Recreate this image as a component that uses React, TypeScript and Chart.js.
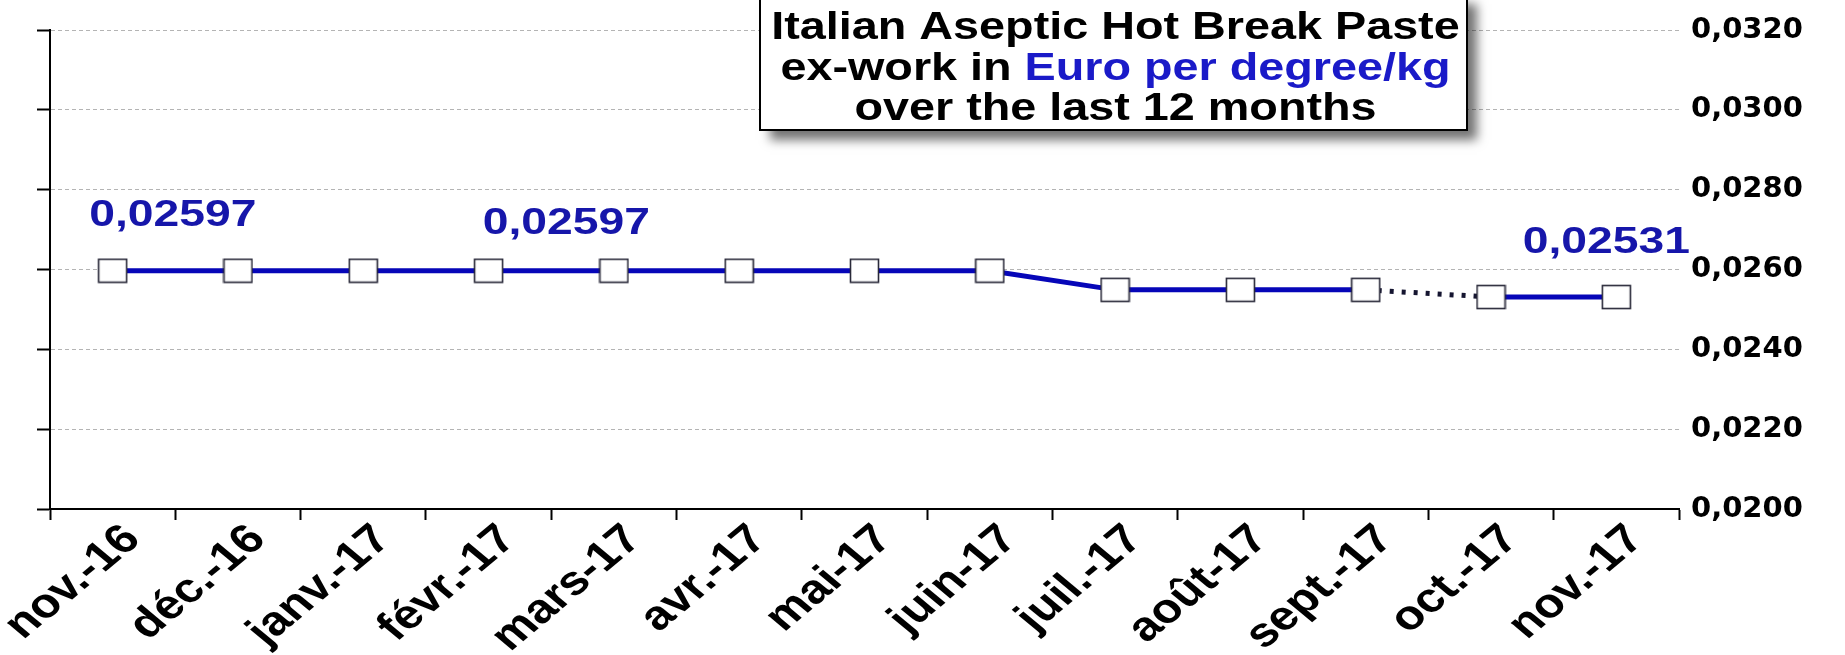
import React, { useEffect, useRef } from 'react';
import { Chart, registerables } from 'chart.js';

Chart.register(...registerables);

// ---- data ----
const months: string[] = [
  'nov.-16', 'déc.-16', 'janv.-17', 'févr.-17', 'mars-17', 'avr.-17', 'mai-17',
  'juin-17', 'juil.-17', 'août-17', 'sept.-17', 'oct.-17', 'nov.-17',
];
const prices: number[] = [
  0.02597, 0.02597, 0.02597, 0.02597, 0.02597, 0.02597, 0.02597,
  0.02597, 0.02549, 0.02549, 0.02549, 0.02531, 0.02531,
];
const yMin = 0.02;
const yMax = 0.032;
const yStep = 0.002;
const dottedSegmentStart = 10; // sept.-17 -> oct.-17 (estimate)
const labelledIndices: number[] = [0, 3, 12];
const titleLine1 = 'Italian Aseptic Hot Break Paste';
const titleLine2a = 'ex-work in ';
const titleLine2b = 'Euro per degree/kg';
const titleLine3 = 'over the last 12 months';

// ---- styles ----
const LINE_BLUE = '#0606b8';
const LABEL_BLUE = '#1616aa';
const TITLE_BLUE = '#1a1ac8';
const STRETCH = 1.2;
const labelOffsets: Record<number, { dxCat: number; dy: number }> = {
  0: { dxCat: 0.48, dy: -45 },
  3: { dxCat: 0.62, dy: -37 },
  12: { dxCat: -0.08, dy: -44 },
};

function fmt(v: number, d: number) {
  return v.toFixed(d).replace('.', ',');
}

function makeMarker(): HTMLCanvasElement {
  const c = document.createElement('canvas');
  c.width = 31;
  c.height = 26;
  const g = c.getContext('2d')!;
  g.fillStyle = '#ffffff';
  g.fillRect(1.5, 1.5, 28, 23);
  g.strokeStyle = '#2a2a3a';
  g.lineWidth = 1.6;
  g.strokeRect(1.5, 1.5, 28, 23);
  return c;
}

function stretchedText(
  ctx: CanvasRenderingContext2D,
  parts: { text: string; color: string }[],
  cx: number,
  baseline: number,
  font: string,
  sx: number
) {
  ctx.save();
  ctx.font = font;
  ctx.textBaseline = 'alphabetic';
  ctx.textAlign = 'left';
  const widths = parts.map((p) => ctx.measureText(p.text).width);
  const total = widths.reduce((a, b) => a + b, 0);
  ctx.translate(cx, baseline);
  ctx.scale(sx, 1);
  let x = -total / 2;
  parts.forEach((p, i) => {
    ctx.fillStyle = p.color;
    ctx.fillText(p.text, x, 0);
    x += widths[i];
  });
  ctx.restore();
}

const overlayPlugin = {
  id: 'overlay',
  afterDatasetsDraw(chart: any) {
    const ctx: CanvasRenderingContext2D = chart.ctx;
    const meta = chart.getDatasetMeta(0);
    const xs = chart.scales.x;
    const step = xs.getPixelForValue(1) - xs.getPixelForValue(0);
    labelledIndices.forEach((i) => {
      const el = meta.data[i];
      if (!el) return;
      const off = labelOffsets[i] || { dxCat: 0, dy: -40 };
      stretchedText(
        ctx,
        [{ text: fmt(prices[i], 5), color: LABEL_BLUE }],
        el.x + off.dxCat * step,
        el.y + off.dy,
        'bold 37px "Liberation Sans", Arial, sans-serif',
        1.25
      );
    });

    // category labels along the x scale, rotated and horizontally stretched
    const angle = (45 * Math.PI) / 180;
    ctx.save();
    ctx.font = 'bold 41px "Liberation Sans", Arial, sans-serif';
    ctx.fillStyle = '#000';
    ctx.textAlign = 'right';
    ctx.textBaseline = 'middle';
    months.forEach((m, i) => {
      const x = xs.getPixelForTick(i) + 20;
      const y = xs.top + 24;
      ctx.save();
      ctx.translate(x, y);
      ctx.scale(STRETCH, 1);
      ctx.rotate(-angle);
      ctx.fillText(m, 0, 0);
      ctx.restore();
    });
    ctx.restore();
  },
  afterDraw(chart: any) {
    const ctx: CanvasRenderingContext2D = chart.ctx;
    const bx = 760, by = -6, bw = 707, bh = 136;
    ctx.save();
    ctx.shadowColor = 'rgba(0,0,0,0.55)';
    ctx.shadowBlur = 10;
    ctx.shadowOffsetX = 10;
    ctx.shadowOffsetY = 10;
    ctx.fillStyle = '#ffffff';
    ctx.fillRect(bx, by, bw, bh);
    ctx.restore();
    ctx.save();
    ctx.strokeStyle = '#000';
    ctx.lineWidth = 2;
    ctx.strokeRect(bx, by, bw, bh);
    ctx.restore();
    const cx = bx + bw / 2 + 2;
    const font = 'bold 38px "Liberation Sans", Arial, sans-serif';
    stretchedText(ctx, [{ text: titleLine1, color: '#000' }], cx, 39, font, 1.23);
    stretchedText(
      ctx,
      [
        { text: titleLine2a, color: '#000' },
        { text: titleLine2b, color: TITLE_BLUE },
      ],
      cx,
      80,
      font,
      1.23
    );
    stretchedText(ctx, [{ text: titleLine3, color: '#000' }], cx, 120, font, 1.23);
  },
};

export default function App() {
  const ref = useRef<HTMLCanvasElement | null>(null);
  useEffect(() => {
    if (!ref.current) return;
    const marker = makeMarker();
    const chart = new Chart(ref.current, {
      type: 'line',
      data: {
        labels: months,
        datasets: [
          {
            data: prices,
            borderColor: LINE_BLUE,
            borderWidth: 5,
            pointStyle: marker as any,
            pointRadius: 13,
            pointHoverRadius: 13,
            tension: 0,
            clip: false as any,
            segment: {
              borderDash: (c: any) => (c.p0DataIndex === dottedSegmentStart ? [4, 8] : undefined),
              borderColor: (c: any) => (c.p0DataIndex === dottedSegmentStart ? '#151530' : undefined),
            },
          } as any,
        ],
      },
      options: {
        responsive: false,
        animation: false,
        devicePixelRatio: 1,
        layout: { padding: { top: 30, left: 0, right: 0, bottom: 0 } },
        plugins: {
          legend: { display: false },
          tooltip: { enabled: false },
          title: { display: false },
        },
        scales: {
          x: {
            type: 'category',
            offset: true,
            grid: {
              display: true,
              drawOnChartArea: false,
              drawTicks: true,
              tickLength: 11,
              tickColor: '#000',
              tickWidth: 2,
              offset: true,
            },
            border: { display: true, color: '#000', width: 2 },
            ticks: {
              display: false,
              autoSkip: false,
            },
            afterFit: (s: any) => {
              s.height = 146;
              s.paddingLeft = 0;
              s.paddingRight = 0;
            },
          },
          y: {
            position: 'left',
            min: yMin,
            max: yMax,
            ticks: { display: false, stepSize: yStep },
            grid: {
              color: '#b4b4b4',
              lineWidth: 1,
              drawTicks: true,
              tickLength: 13,
              tickColor: '#000',
              tickWidth: 2,
            },
            border: { display: true, color: '#000', width: 2, dash: [4, 3] },
            afterFit: (s: any) => {
              s.width = 50;
              s.paddingTop = 0;
              s.paddingBottom = 0;
            },
          },
          y2: {
            position: 'right',
            min: yMin,
            max: yMax,
            ticks: {
              stepSize: yStep,
              color: '#000',
              padding: 12,
              font: { family: '"DejaVu Sans", sans-serif', size: 29, weight: 'bold' },
              callback: (v: any) => fmt(Number(v), 4),
            },
            grid: { display: false, drawTicks: false },
            border: { display: false },
            afterFit: (s: any) => {
              s.width = 166;
              s.paddingTop = 0;
              s.paddingBottom = 0;
            },
          },
        } as any,
      },
      plugins: [overlayPlugin],
    });
    return () => chart.destroy();
  }, []);

  return (
    <div style={{ position: 'absolute', left: 0, top: 0, width: 1845, height: 655, background: '#fff' }}>
      <canvas ref={ref} width={1845} height={655} style={{ display: 'block' }} />
    </div>
  );
}
